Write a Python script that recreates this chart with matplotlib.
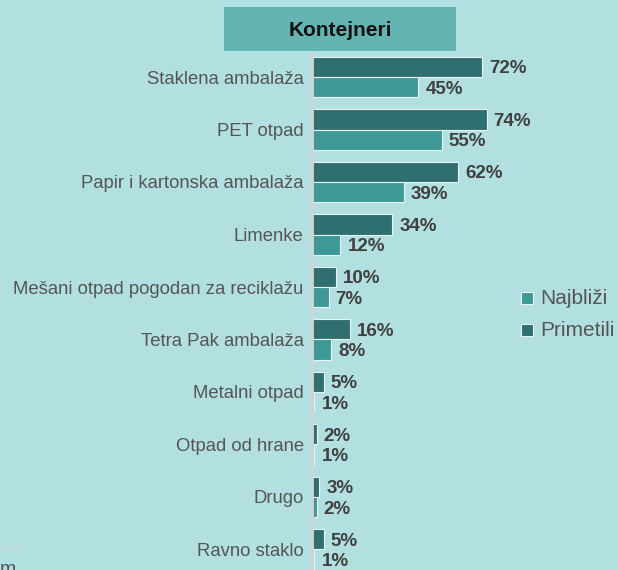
import matplotlib.pyplot as plt
from matplotlib.patches import Rectangle

categories = ['Staklena ambalaža', 'PET otpad', 'Papir i kartonska ambalaža', 'Limenke',
              'Mešani otpad pogodan za reciklažu', 'Tetra Pak ambalaža', 'Metalni otpad',
              'Otpad od hrane', 'Drugo', 'Ravno staklo']
primetili = [72, 74, 62, 34, 10, 16, 5, 2, 3, 5]
najblizi = [45, 55, 39, 12, 7, 8, 1, 1, 2, 1]

BG = '#b2e0e0'
DARK = '#2f6f6f'
LIGHT = '#3f9898'

W, H = 618, 570
fig = plt.figure(figsize=(W / 100, H / 100), dpi=100, facecolor=BG)

# axes placed in pixel terms
x0, x1 = 312, 600
y_top, y_bot = 53, 570
ax = fig.add_axes([x0 / W, 1 - y_bot / H, (x1 - x0) / W, (y_bot - y_top) / H])
ax.set_facecolor(BG)
ppu = 2.36  # px per percent
ax.set_xlim(0, (x1 - x0) / ppu)
pitch = 52.5
ax.set_ylim((y_bot - 77) / pitch, -(77 - y_top) / pitch)

pos = list(range(len(categories)))
h = 0.385
ax.barh([p - h / 2 for p in pos], primetili, height=h, color=DARK, edgecolor='#e8f4f4', linewidth=0.8)
ax.barh([p + h / 2 for p in pos], najblizi, height=h, color=LIGHT, edgecolor='#e8f4f4', linewidth=0.8)

for p, v in zip(pos, primetili):
    ax.text(v + 3, p - h / 2, f'{v}%', va='center_baseline', ha='left', fontsize=13.5,
            fontweight='bold', color='#404040', family='Liberation Sans')
for p, v in zip(pos, najblizi):
    ax.text(v + 3, p + h / 2, f'{v}%', va='center_baseline', ha='left', fontsize=13.5,
            fontweight='bold', color='#404040', family='Liberation Sans')

ax.set_yticks(pos)
ax.set_yticklabels(categories, fontsize=13.3, color='#555555', family='Liberation Sans')
ax.tick_params(axis='y', length=0, pad=6)
ax.set_xticks([])
for s in ['top', 'right', 'bottom']:
    ax.spines[s].set_visible(False)
ax.spines['left'].set_color('#d4d4d4')
ax.spines['left'].set_linewidth(2)

# title box
fig.patches.append(Rectangle((224 / W, 1 - 51 / H), (456 - 224) / W, 44 / H,
                             transform=fig.transFigure, facecolor='#64b4b4',
                             edgecolor='none'))
fig.text(340 / W, 1 - 30 / H, 'Kontejneri', ha='center', va='center', fontsize=15,
         fontweight='bold', color='#111111', family='Liberation Sans')

# legend
for yy, col, lab in [(298, LIGHT, 'Najbliži'), (330, DARK, 'Primetili')]:
    fig.patches.append(Rectangle((521 / W, 1 - (yy + 6) / H), 12 / W, 12 / H,
                                 transform=fig.transFigure, facecolor=col,
                                 edgecolor='#e8f4f4', linewidth=0.8))
    fig.text(540 / W, 1 - yy / H, lab, ha='left', va='center', fontsize=15,
             color='#555555', family='Liberation Sans')

# leftover fragments at bottom left
fig.add_artist(plt.Line2D([0, 20 / W], [1 - 548 / H, 1 - 548 / H], color='#d4d4d4', lw=1))
fig.text(0, 1 - 578 / H, 'm', ha='left', va='bottom', fontsize=14, color='#555555',
         family='Liberation Sans')

fig.savefig('out.png', dpi=100, facecolor=BG)
